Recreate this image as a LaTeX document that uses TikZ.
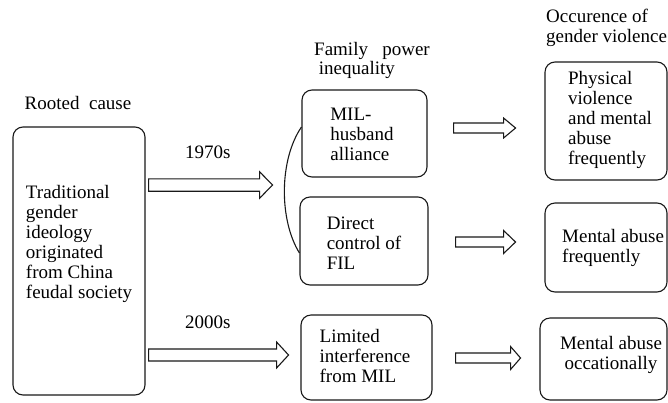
\documentclass[tikz,border=0pt]{standalone}
\usepackage{fontspec}
\setmainfont{Liberation Serif}
\usetikzlibrary{calc}
\tikzset{
  box/.style={draw=black!90, line width=1.1pt, rounded corners=10pt, inner sep=0pt},
  txt/.style={align=left, inner sep=0pt, font=\rmfamily\fontsize{19}{20}\selectfont, text=black},
  ctxt/.style={align=center, inner sep=0pt, font=\rmfamily\fontsize{19}{20}\selectfont, text=black},
  arr/.style={draw=black!90, line width=1.1pt, line join=miter},
  link/.style={draw=black!90, line width=1.1pt}
}
% #1 start coordinate, #2 length, #3 shaft half height, #4 head half height, #5 head length
\newcommand\barrow[5]{%
  \path[arr] ($(#1)+(0,-#3)$) -- ++({#2-#5},0) -- ++(0,{-(#4-#3)}) -- ++(#5,#4)
    -- ++(-#5,#4) -- ++(0,{-(#4-#3)}) -- ++({-(#2-#5)},0) -- cycle;}
\begin{document}
\begin{tikzpicture}[x=1pt,y=-1pt]
\useasboundingbox (0,0) rectangle (668,402);
\clip (0,0) rectangle (668,402);

% headers
\node[txt, anchor=center] (hroot) at (78,103) {Rooted\ \ cause};
\node[txt, anchor=west] (hfam) at (314,60) {Family\ \ \ power\\[-1pt]\ inequality};
\node[txt, anchor=west] (hocc) at (546,28) {Occurence of\\gender violence};

% boxes
\node[box, minimum width=132pt, minimum height=268pt] (root) at (79,261) {};
\node[box, minimum width=125pt, minimum height=87pt] (mil) at (364.5,133.5) {};
\node[box, minimum width=128pt, minimum height=88pt] (dfil) at (364,241) {};
\node[box, minimum width=131pt, minimum height=85pt] (lim) at (366.5,357.5) {};
\node[box, minimum width=122pt, minimum height=118pt] (r1) at (606,121) {};
\node[box, minimum width=122pt, minimum height=89pt] (r2) at (606,247.5) {};
\node[box, minimum width=127pt, minimum height=82pt] (r3) at (603.5,359) {};

% box texts
\node[txt] (troot) at (79,244) {Traditional\\gender\\ideology\\originated\\from China\\feudal society};
\node[txt] (tmil) at (362,134) {MIL-\\husband\\alliance};
\node[txt] (tdfil) at (364,243) {Direct\\control of\\FIL};
\node[txt] (tlim) at (365,356) {Limited\\interference\\from MIL};
\node[txt] (tr1) at (610,120) {Physical\\violence\\and mental\\abuse\\frequently};
\node[txt, anchor=west] (tr2) at (562,247.5) {Mental abuse\\frequently};
\node[ctxt] (tr3) at (611,355) {Mental abuse\\occationally};

% period labels
\node[txt, anchor=west] (l1970) at (185,152) {1970s};
\node[txt, anchor=west] (l2000) at (185,322) {2000s};

% block arrows
\coordinate (a1) at ($(root.east)+(3,-76)$);
\coordinate (a2) at ($(root.east)+(3,94)$);
\coordinate (a3) at ($(mil.east)+(26,-5.5)$);
\coordinate (a4) at ($(dfil.east)+(27,1)$);
\coordinate (a5) at ($(lim.east)+(23,0.5)$);
\barrow{a1}{124}{6.2}{13.3}{13}
\barrow{a2}{140}{6}{13}{12}
\barrow{a3}{62}{5}{10}{12}
\barrow{a4}{60}{5}{11.5}{12}
\barrow{a5}{65}{5}{11.5}{10}

% curved link between the 1970s boxes
\draw[link] ([yshift=6.5pt]mil.west) .. controls (279,160) and (279,220) .. ([yshift=-12pt]dfil.west);
\end{tikzpicture}
\end{document}
